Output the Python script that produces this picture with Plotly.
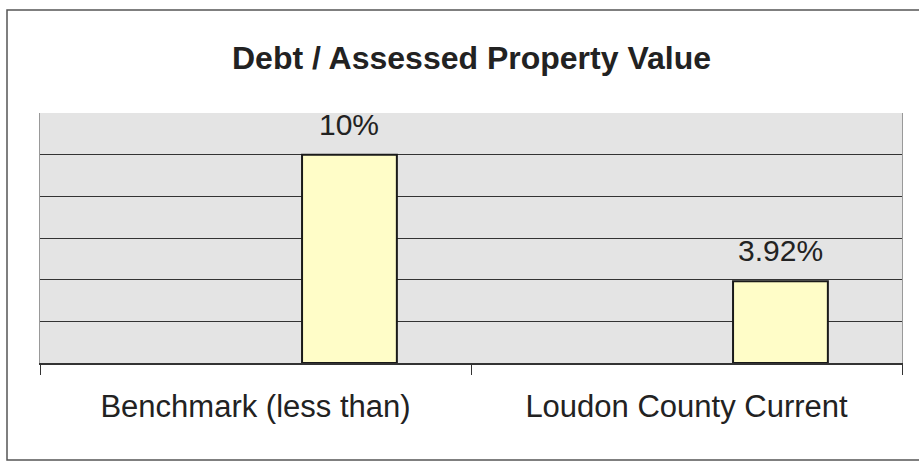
import plotly.graph_objects as go

# Chart data
categories = ["Benchmark (less than)", "Loudon County Current"]
values = [10, 3.92]
value_labels = ["10%", "3.92%"]
title_text = "Debt / Assessed Property Value"

W, H = 919, 462
margin = dict(l=40, r=17, t=113, b=99)
plot_w = W - margin["l"] - margin["r"]
plot_h = H - margin["t"] - margin["b"]


def px_to_paper_x(px):
    return (px - margin["l"]) / plot_w


def px_to_paper_y(py):
    return (H - margin["b"] - py) / plot_h


FONT = "Arial, Liberation Sans, Helvetica, sans-serif"
BAR_WIDTH = 0.22
BAR_OFFSET = 0.108

fig = go.Figure()
fig.add_trace(go.Bar(
    x=categories,
    y=values,
    width=BAR_WIDTH,
    offset=BAR_OFFSET,
    marker=dict(color="#fffdc8", line=dict(color="#1a1a1a", width=2)),
    hoverinfo="skip",
))

# Value labels above each bar
for i, (v, lab) in enumerate(zip(values, value_labels)):
    fig.add_annotation(
        x=i + BAR_OFFSET + BAR_WIDTH / 2, y=v,
        xref="x", yref="y",
        text=lab, showarrow=False,
        xanchor="center", yanchor="bottom", yshift=12,
        font=dict(family=FONT, size=30, color="#222222"),
    )

# Outer chart frame (left, top and bottom edges)
fig.add_shape(
    type="rect", xref="paper", yref="paper",
    x0=px_to_paper_x(7), x1=px_to_paper_x(925),
    y0=px_to_paper_y(460), y1=px_to_paper_y(10),
    line=dict(color="#555555", width=1.5), fillcolor="rgba(0,0,0,0)",
    layer="below",
)

fig.add_annotation(
    text="<b>" + title_text + "</b>",
    xref="paper", yref="paper",
    x=px_to_paper_x(471), y=px_to_paper_y(58),
    xanchor="center", yanchor="middle",
    showarrow=False,
    font=dict(family=FONT, size=32, color="#222222"),
)

fig.update_layout(
    width=W, height=H,
    margin=margin,
    paper_bgcolor="white",
    plot_bgcolor="#e4e4e4",
    showlegend=False,
    xaxis=dict(
        type="category",
        range=[-0.5, 1.5],
        tickson="boundaries",
        ticks="outside",
        ticklen=10,
        tickwidth=1,
        tickcolor="#333333",
        showline=True,
        linecolor="#333333",
        linewidth=1.5,
        showgrid=False,
        tickfont=dict(family=FONT, size=31, color="#222222"),
        ticklabelstandoff=15,
    ),
    yaxis=dict(
        range=[0, 12],
        dtick=2,
        showticklabels=False,
        showgrid=True,
        gridcolor="#333333",
        gridwidth=1,
        zeroline=False,
        showline=True,
        linecolor="#999999",
        linewidth=1,
        mirror=True,
        ticks="",
    ),
)

fig.write_html("out.html")
